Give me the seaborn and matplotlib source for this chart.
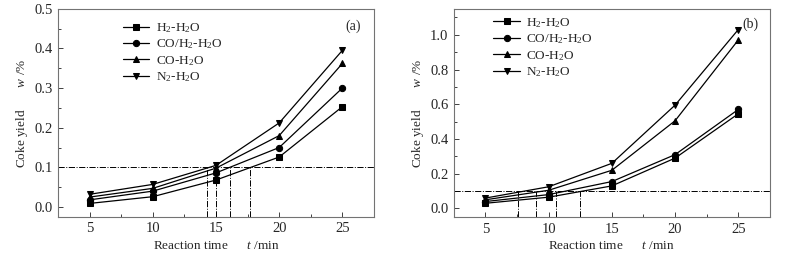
import numpy as np
import pandas as pd
import matplotlib
matplotlib.use('Agg')
import matplotlib.pyplot as plt
from matplotlib.ticker import MultipleLocator
import seaborn as sns

sns.set_style('ticks')
plt.rcParams['font.family'] = ['Liberation Serif', 'DejaVu Serif']
plt.rcParams['mathtext.fontset'] = 'custom'
plt.rcParams['mathtext.rm'] = 'Liberation Serif'
plt.rcParams['mathtext.it'] = 'Liberation Serif:italic'

# data
times = [5, 10, 15, 20, 25]
series = ['H$_2$-H$_2$O', 'CO/H$_2$-H$_2$O', 'CO-H$_2$O', 'N$_2$-H$_2$O']

# panel (a)
a_h2 = [0.009, 0.026, 0.068, 0.126, 0.253]
a_coh2 = [0.018, 0.040, 0.086, 0.150, 0.300]
a_co = [0.025, 0.047, 0.098, 0.180, 0.362]
a_n2 = [0.032, 0.057, 0.105, 0.212, 0.395]
a_cross = [14.3, 15.0, 16.1, 17.7]

# panel (b)
b_h2 = [0.030, 0.065, 0.130, 0.290, 0.545]
b_coh2 = [0.040, 0.080, 0.155, 0.310, 0.570]
b_co = [0.050, 0.105, 0.220, 0.505, 0.970]
b_n2 = [0.060, 0.125, 0.260, 0.595, 1.030]
b_cross = [7.6, 9.0, 10.6, 12.5]

threshold = 0.1
markers = ['s', 'o', '^', 'v']


def make_df(values):
    rows = []
    for name, vals in zip(series, values):
        for t, v in zip(times, vals):
            rows.append({'time': t, 'yield': v, 'gas': name})
    return pd.DataFrame(rows)


def draw_panel(ax, values, cross, ylim, ymajor, yminor, tag, tag_xy, leg_anchor):
    df = make_df(values)
    sns.lineplot(data=df, x='time', y='yield', style='gas', markers=markers,
                 dashes=False, color='black', linewidth=0.9, markersize=4.5,
                 markeredgecolor='black', ax=ax)
    ax.set_xlim(2.5, 27.5)
    ax.set_ylim(*ylim)
    # threshold guide lines
    ax.axhline(threshold, color='black', linestyle='-.', linewidth=0.7)
    ax.vlines(cross, ylim[0], threshold, colors='black', linestyles='-.', linewidth=0.7)

    ax.xaxis.set_major_locator(MultipleLocator(5))
    ax.xaxis.set_minor_locator(MultipleLocator(2.5))
    ax.yaxis.set_major_locator(MultipleLocator(ymajor))
    ax.yaxis.set_minor_locator(MultipleLocator(yminor))
    ax.tick_params(which='both', direction='in', labelsize=10.5, color='0.25', width=0.7)
    ax.tick_params(which='major', length=3.5, pad=4)
    ax.tick_params(which='minor', length=2)
    ax.yaxis.set_major_formatter(matplotlib.ticker.FormatStrFormatter('%.1f'))
    for sp in ax.spines.values():
        sp.set_color('0.45')
        sp.set_linewidth(0.8)

    ax.set_xlabel('Reaction time      $t$ /min', fontsize=9.5, labelpad=3)
    ax.set_ylabel('Coke yield       $w$ /%', fontsize=9.5, labelpad=3)

    handles, labels = ax.get_legend_handles_labels()
    ax.legend(handles, labels, loc='upper left', bbox_to_anchor=leg_anchor,
              frameon=False, fontsize=9.5, borderpad=0, borderaxespad=0,
              labelspacing=0.2, handlelength=2.0, handletextpad=0.5)
    ax.text(tag_xy[0], tag_xy[1], tag, transform=ax.transAxes, fontsize=10,
            ha='center', va='center')


fig = plt.figure(figsize=(7.88, 2.57), dpi=100)
ax1 = fig.add_axes([0.0736, 0.156, 0.401, 0.81])
ax2 = fig.add_axes([0.576, 0.155, 0.401, 0.811])

draw_panel(ax1, [a_h2, a_coh2, a_co, a_n2], a_cross, (-0.025, 0.5), 0.1, 0.05,
           '(a)', (0.935, 0.915), (0.205, 0.94))
draw_panel(ax2, [b_h2, b_coh2, b_co, b_n2], b_cross, (-0.05, 1.15), 0.2, 0.1,
           '(b)', (0.94, 0.925), (0.125, 0.965))

fig.savefig('out.png', dpi=100)
